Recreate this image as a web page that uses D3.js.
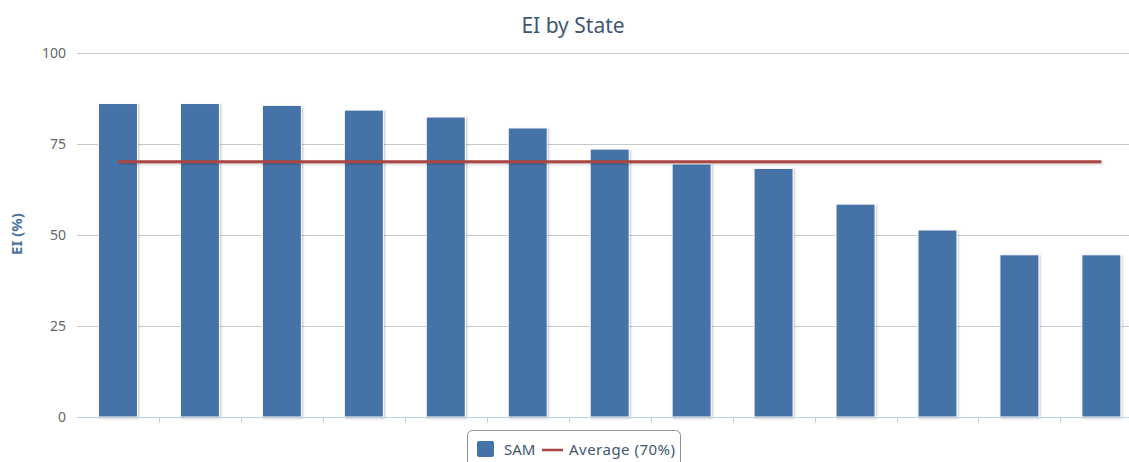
<!DOCTYPE html>
<html><head><meta charset="utf-8">
<script src="https://cdn.jsdelivr.net/npm/d3@7"></script>
<style>body{margin:0;background:#fff;}svg{display:block;font-family:"Noto Sans","Open Sans",sans-serif;}</style>
</head><body>
<svg id="c" width="1129" height="462"></svg>
<script>
const categories = ["S1","S2","S3","S4","S5","S6","S7","S8","S9","S10","S11","S12","S13"];
const samValues = [86, 86, 85.5, 84.2, 82.3, 79.3, 73.5, 69.4, 68.2, 58.4, 51.3, 44.5, 44.5];
const averageValue = 70;
const yTicks = [0, 25, 50, 75, 100];

const svg = d3.select("#c");
const W = 1129, H = 462;
const m = {left: 77, top: 52.5, bottom: 417};
const plotRight = 77 + 13 * 81.95;

const defs = svg.append("defs");
const f = defs.append("filter").attr("id","sh").attr("filterUnits","userSpaceOnUse")
  .attr("x",0).attr("y",0).attr("width",W).attr("height",H);
f.append("feDropShadow").attr("dx",1).attr("dy",1).attr("stdDeviation",1.2).attr("flood-color","#000").attr("flood-opacity",0.25);

const x = d3.scaleBand().domain(categories).range([m.left, plotRight]).paddingInner(0).paddingOuter(0);
const y = d3.scaleLinear().domain([0,100]).range([m.bottom, m.top]);

// gridlines
svg.append("g").selectAll("line").data(yTicks.filter(d=>d>0)).join("line")
  .attr("x1", m.left).attr("x2", W).attr("y1", d=>Math.round(y(d))+0.5).attr("y2", d=>Math.round(y(d))+0.5)
  .attr("stroke","#c8c8c8").attr("stroke-width",1);

// y labels
svg.append("g").selectAll("text").data(yTicks).join("text")
  .attr("x", 66).attr("y", d=>y(d)+5).attr("text-anchor","end")
  .attr("font-size",14).attr("fill","#666").text(d=>d);

// bars
const bw = 39;
svg.append("g").selectAll("rect").data(samValues).join("rect")
  .attr("x",(d,i)=>x(categories[i]) + x.bandwidth()/2 - bw/2)
  .attr("y",d=>y(d))
  .attr("width",bw).attr("height",d=>y(0)-y(d))
  .attr("fill","#4572a7").attr("stroke","#fff").attr("stroke-width",1)
  .attr("filter","url(#sh)");

// x axis
svg.append("line").attr("x1",m.left).attr("x2",W).attr("y1",m.bottom+0.5).attr("y2",m.bottom+0.5)
  .attr("stroke","#c0d0e0").attr("stroke-width",1);
svg.append("g").selectAll("line").data(categories.slice(1)).join("line")
  .attr("x1",d=>Math.round(x(d))+0.5).attr("x2",d=>Math.round(x(d))+0.5)
  .attr("y1",m.bottom).attr("y2",m.bottom+6).attr("stroke","#c0d0e0");

// average line
const line = d3.line().x(d=>x(d)+x.bandwidth()/2).y(()=>y(averageValue));
svg.append("path").datum([categories[0], categories[categories.length-1]])
  .attr("d", line).attr("fill","none").attr("stroke","#aa4643").attr("stroke-width",3)
  .attr("filter","url(#sh)");

// title
svg.append("text").attr("x",573).attr("y",33).attr("text-anchor","middle")
  .attr("font-size",21).attr("fill","#3e576f").text("EI by State");

// y axis title
svg.append("text").attr("transform","translate(22,234) rotate(-90)").attr("text-anchor","middle")
  .attr("font-size",15).attr("font-weight","bold").attr("fill","#4d759e").text("EI (%)");

// legend
const lg = svg.append("g");
lg.append("rect").attr("x",467.5).attr("y",430.5).attr("width",213).attr("height",40).attr("rx",5)
  .attr("fill","#fff").attr("stroke","#909090").attr("stroke-width",1);
lg.append("rect").attr("x",477).attr("y",441).attr("width",17).attr("height",16).attr("rx",2).attr("fill","#4572a7");
lg.append("text").attr("x",504).attr("y",455).attr("font-size",15).attr("fill","#3e576f").text("SAM");
lg.append("line").attr("x1",542).attr("x2",563).attr("y1",450).attr("y2",450).attr("stroke","#aa4643").attr("stroke-width",2.5);
lg.append("text").attr("x",569).attr("y",455).attr("font-size",15).attr("fill","#3e576f")
  .attr("textLength",106).text("Average (70%)");
</script>
</body></html>
